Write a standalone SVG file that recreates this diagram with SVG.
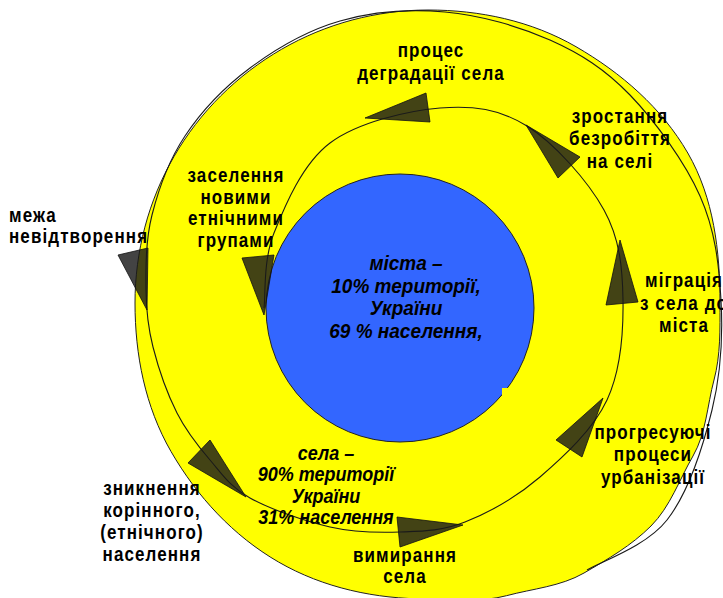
<svg xmlns="http://www.w3.org/2000/svg" width="723" height="598" viewBox="0 0 723 598">
<style>
.lbl{font-family:"Liberation Sans",Arial,sans-serif;font-weight:bold;font-size:17px;letter-spacing:1.1px;fill:#000;text-anchor:middle}
.ital{font-family:"Liberation Sans",Arial,sans-serif;font-weight:bold;font-style:italic;font-size:19px;fill:#000;text-anchor:middle}
.arr{fill:#1a1a1a;fill-opacity:0.82;stroke:#111;stroke-width:0.8;stroke-linejoin:miter}
.line{fill:none;stroke:#1a1a1a;stroke-width:1.1}
</style>
<rect x="0" y="0" width="723" height="598" fill="#fff"/>
<g id="village-area">
<path d="M720,303 C720,328.7 720.7,355.2 714,380 C707.2,405.4 706.2,433.2 693,456 C679.4,479.5 670.2,506.8 651,526 C631.6,545.4 607.7,559.3 584,573 C560.7,586.5 532.5,588.7 506.5,595.7 C481.2,602.5 454.2,599 428,599 C375.9,599 323.6,588.1 278.5,562 C233.2,535.8 197.2,496.8 171,451.5 C145.1,406.6 135,354.8 135,303 C135,251.6 148.3,201 174,156.5 C199.7,112 237,75 281.5,49.3 C326,23.6 376.6,10 428,10 C479.7,10 531.2,20.8 576,46.7 C621.3,72.9 661.6,107.7 687.8,153 C713.8,198 720,251 720,303 Z" fill="#ffff00" stroke="#222" stroke-width="1"/>
</g>
<g id="city-area">
<circle cx="400" cy="308" r="134" fill="#3366ff" stroke="#222" stroke-width="1"/>
<rect x="502" y="388" width="9" height="10" fill="#ffff00"/>
</g>
<g id="connectors">
<path class="line" d="M587,570 C600.3,561.7 646.2,546.7 667,520 C687.8,493.3 703,446.7 712,410 C721,373.3 723,335.7 721,300 C719,264.3 715.2,230.2 700,196 C684.8,161.8 655,121 630,95 C605,69 580.8,53.8 550,40 C519.2,26.2 480,15.2 445,12 C410,8.8 372.5,11.7 340,21 C307.5,30.3 275.8,48.8 250,68 C224.2,87.2 201.3,111.5 185,136 C168.7,160.5 158.5,189.3 152,215 C145.5,240.7 145.8,268 146,290 C146.2,312 147.8,326.5 153,347 C158.2,367.5 167.5,394.2 177,413 C186.5,431.8 197.8,445.8 210,460 C222.2,474.2 230,486.8 250,498 C270,509.2 305,521.3 330,527 C355,532.7 377.5,532.8 400,532 C422.5,531.2 441.7,531.2 465,522 C488.3,512.8 516.3,497.3 540,477 C563.7,456.7 593.2,429.5 607,400 C620.8,370.5 623.5,331.7 623,300 C622.5,268.3 620,239 604,210 C588,181 554.3,143 527,126 C499.7,109 472.8,105.2 440,108 C407.2,110.8 357.7,122.2 330,143 C302.3,163.8 285,205.5 274,233 C263,260.5 265.7,295.5 264,308"/>
<polygon class="arr" points="365,118 426,93 430,122"/>
<polygon class="arr" points="526,125 580,157 558,178"/>
<polygon class="arr" points="620,240 638,302 606,305"/>
<polygon class="arr" points="603,398 582,457 556,440"/>
<polygon class="arr" points="463,525 400,547 397,517"/>
<polygon class="arr" points="246,497 188,463 210,440"/>
<polygon class="arr" points="147,310 118,255 148,248"/>
<polygon class="arr" points="264,315 242,258 274,255"/>
</g>
<g id="label-degradation"><text class="lbl" transform="translate(431,57) scale(1,1.2)"><tspan x="0" y="0">процес</tspan><tspan x="0" y="19.2">деградації села</tspan></text></g>
<g id="label-unemployment"><text class="lbl" transform="translate(620,123) scale(1,1.2)"><tspan x="0" y="0">зростання</tspan><tspan x="0" y="18.5">безробіття</tspan><tspan x="0" y="37.5">на селі</tspan></text></g>
<g id="label-settlement"><text class="lbl" transform="translate(236,182) scale(1,1.2)"><tspan x="0" y="0">заселення</tspan><tspan x="0" y="18">новими</tspan><tspan x="0" y="36">етнічними</tspan><tspan x="0" y="54">групами</tspan></text></g>
<g id="label-boundary"><text class="lbl" style="text-anchor:start" transform="translate(9,222) scale(1,1.2)"><tspan x="0" y="0">межа</tspan><tspan x="0" y="17.8">невідтворення</tspan></text></g>
<g id="label-migration"><text class="lbl" transform="translate(684,287) scale(1,1.2)"><tspan x="0" y="0">міграція</tspan><tspan x="0" y="19.2">з села до</tspan><tspan x="0" y="37.5">міста</tspan></text></g>
<g id="label-urbanization"><text class="lbl" transform="translate(653,439) scale(1,1.2)"><tspan x="0" y="0">прогресуючі</tspan><tspan x="0" y="18.3">процеси</tspan><tspan x="0" y="37.5">урбанізації</tspan></text></g>
<g id="label-disappearance"><text class="lbl" transform="translate(152,495) scale(1,1.2)"><tspan x="0" y="0">зникнення</tspan><tspan x="0" y="18.3">корінного,</tspan><tspan x="0" y="36.7">(етнічного)</tspan><tspan x="0" y="55">населення</tspan></text></g>
<g id="label-dying"><text class="lbl" transform="translate(405,562) scale(1,1.2)"><tspan x="0" y="0">вимирання</tspan><tspan x="0" y="17.8">села</tspan></text></g>
<g id="label-cities"><text class="ital" transform="translate(406,270) scale(1,1.1)"><tspan x="0" y="0">міста –</tspan><tspan x="0" y="20.5">10% території,</tspan><tspan x="0" y="41">України</tspan><tspan x="0" y="61.8">69 % населення,</tspan></text></g>
<g id="label-villages"><text class="ital" style="font-size:18px" transform="translate(326,460) scale(1,1.1)"><tspan x="0" y="0">села –</tspan><tspan x="0" y="19.1">90% території</tspan><tspan x="0" y="39">України</tspan><tspan x="0" y="58">31% населення</tspan></text></g>
</svg>
